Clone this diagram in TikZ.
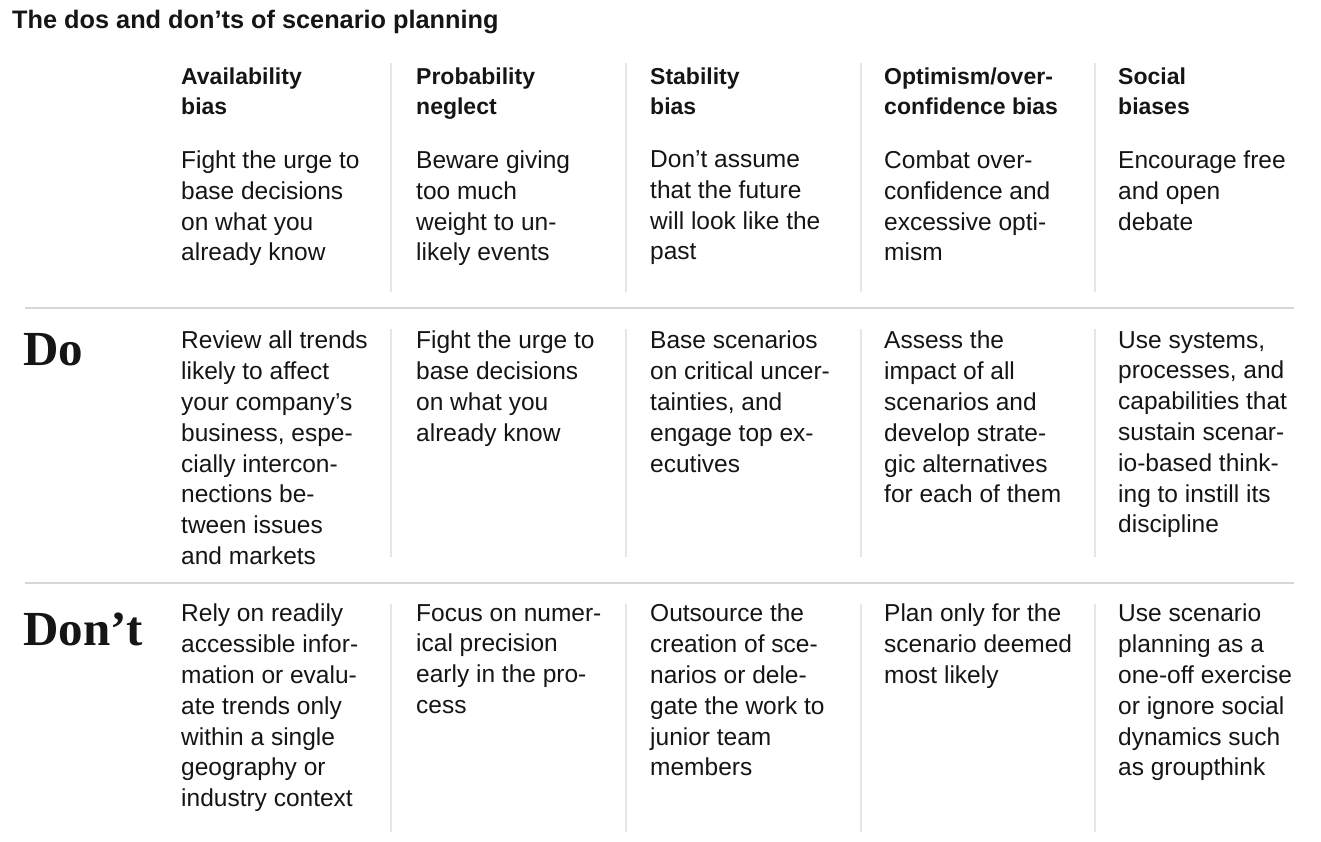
\documentclass[tikz,border=0pt]{standalone}
\usepackage{fontspec}
\setmainfont{Liberation Sans}
\newfontfamily\dofont{Liberation Serif}
\definecolor{ink}{HTML}{151515}
\definecolor{rule}{HTML}{D6D6D6}
\definecolor{sep}{HTML}{E6E6E6}
\begin{document}
\begin{tikzpicture}[x=1pt,y=-1pt]
        \tikzstyle{heading}=[anchor=north west,inner sep=0pt,align=left,text=ink,font=\bfseries\fontsize{23}{30}\selectfont,execute at begin node=\strut]
        \tikzstyle{cell}=[anchor=north west,inner sep=0pt,align=left,text=ink,font=\fontsize{24.5}{30.8}\selectfont,execute at begin node=\strut]
        \tikzstyle{verdict}=[anchor=base west,inner sep=0pt,text=ink,font=\dofont\bfseries\fontsize{49}{50}\selectfont]
        \tikzstyle{hline}=[draw=rule,line width=1.6pt]
        \tikzstyle{vline}=[draw=sep,line width=1.2pt]
       \useasboundingbox (0,0) rectangle (1321,841);
       \node [anchor=base west,inner sep=0pt,text=ink,font=\bfseries\fontsize{25.3}{30}\selectfont] (title) at (12,28) {The dos and don’ts of scenario planning};
       \begin{scope}
         % headings
         \node [heading] (h1) at (181,68) {Availability\\bias};
         \node [heading] (h2) at (416,68) {Probability\\neglect};
         \node [heading] (h3) at (650,68) {Stability\\bias};
         \node [heading] (h4) at (884,68) {Optimism/over-\\confidence bias};
         \node [heading] (h5) at (1118,68) {Social\\biases};
         \node [cell] (g1) at (181,150.5) {Fight the urge to\\base decisions\\on what you\\already know};
         \node [cell] (g2) at (416,150.5) {Beware giving\\too much\\weight to un-\\likely events};
         \node [cell] (g3) at (650,150.5) {Don’t assume\\that the future\\will look like the\\past};
         \node [cell] (g4) at (884,150.5) {Combat over-\\confidence and\\excessive opti-\\mism};
         \node [cell] (g5) at (1118,150.5) {Encourage free\\and open\\debate};
       \end{scope}
       \begin{scope}
         % do row
         \node [verdict] (do) at (23,365) {Do};
         \node [cell] (d1) at (181,331) {Review all trends\\likely to affect\\your company’s\\business, espe-\\cially intercon-\\nections be-\\tween issues\\and markets};
         \node [cell] (d2) at (416,331) {Fight the urge to\\base decisions\\on what you\\already know};
         \node [cell] (d3) at (650,331) {Base scenarios\\on critical uncer-\\tainties, and\\engage top ex-\\ecutives};
         \node [cell] (d4) at (884,331) {Assess the\\impact of all\\scenarios and\\develop strate-\\gic alternatives\\for each of them};
         \node [cell] (d5) at (1118,331) {Use systems,\\processes, and\\capabilities that\\sustain scenar-\\io-based think-\\ing to instill its\\discipline};
       \end{scope}
       \begin{scope}
         % don't row
         \node [verdict] (dont) at (23,645) {Don’t};
         \node [cell] (n1) at (181,604) {Rely on readily\\accessible infor-\\mation or evalu-\\ate trends only\\within a single\\geography or\\industry context};
         \node [cell] (n2) at (416,604) {Focus on numer-\\ical precision\\early in the pro-\\cess};
         \node [cell] (n3) at (650,604) {Outsource the\\creation of sce-\\narios or dele-\\gate the work to\\junior team\\members};
         \node [cell] (n4) at (884,604) {Plan only for the\\scenario deemed\\most likely};
         \node [cell] (n5) at (1118,604) {Use scenario\\planning as a\\one-off exercise\\or ignore social\\dynamics such\\as groupthink};
       \end{scope}
       % rules
       \path[hline] (25,308) -- (1294,308);
       \path[hline] (25,583) -- (1294,583);
       \foreach \x in {391,626,861,1095} {
         \path[vline] (\x,63) -- (\x,292);
         \path[vline] (\x,329) -- (\x,557);
         \path[vline] (\x,604) -- (\x,832);
       }
      \end{tikzpicture}
\end{document}
